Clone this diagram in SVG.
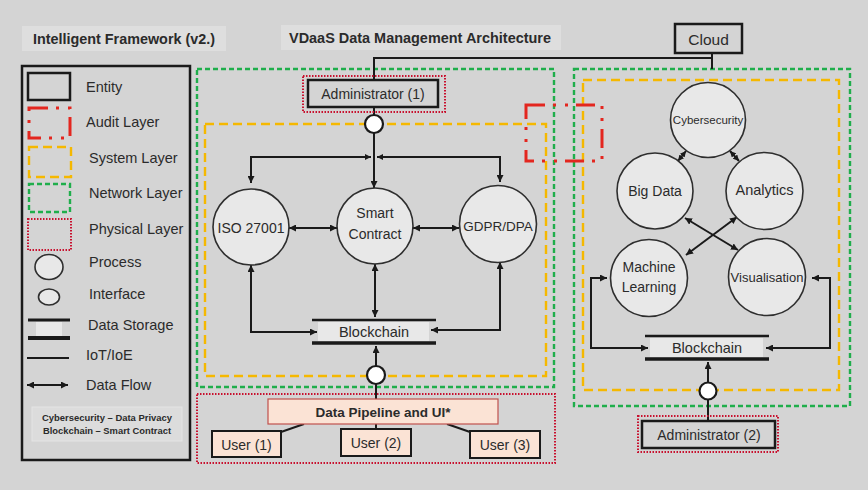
<svg xmlns="http://www.w3.org/2000/svg" width="868" height="490" viewBox="0 0 868 490">
  <style>
    text { font-family: "Liberation Sans", Arial, sans-serif; fill: #2b2b2b; }
    .c { text-anchor: middle; dominant-baseline: central; }
    .l { dominant-baseline: central; font-size: 14.5px; }
    .b { font-weight: bold; }
    .panel { fill: #dedede; }
    .ent { fill: none; stroke: #1a1a1a; stroke-width: 2.5; }
    .proc { fill: #e8e8e8; stroke: #2e2e2e; stroke-width: 1.6; }
    .ifc { fill: #ffffff; stroke: #1a1a1a; stroke-width: 2.2; }
    .net { fill: none; stroke: #1fae4b; stroke-width: 2.4; stroke-dasharray: 5 3; }
    .sys { fill: none; stroke: #f5b800; stroke-width: 2.4; stroke-dasharray: 9 5; }
    .phy { fill: none; stroke: #c8102e; stroke-width: 2; stroke-dasharray: 1.5 1.5; }
    .aud { fill: none; stroke: #e3261f; stroke-width: 3; stroke-dasharray: 19 8 3 9 3 8; }
    .wire { fill: none; stroke: #1a1a1a; stroke-width: 2; }
    .flow { fill: none; stroke: #1a1a1a; stroke-width: 2; marker-start: url(#ah); marker-end: url(#ah); }
    .one { fill: none; stroke: #1a1a1a; stroke-width: 2; marker-end: url(#ah); }
    .sm { fill: none; stroke: #1a1a1a; stroke-width: 2; marker-start: url(#ahs); marker-end: url(#ahs); }
    .store { fill: #e8e8e8; }
    .bar { stroke: #1a1a1a; }
    .peach { fill: #fbe3d5; }
  </style>
  <defs>
    <marker id="ah" viewBox="0 0 8 8" refX="8" refY="4" markerWidth="7" markerHeight="7" markerUnits="userSpaceOnUse" orient="auto-start-reverse">
      <path d="M0,0 L8,4 L0,8 z" fill="#1a1a1a"/>
    </marker>
    <marker id="ahs" viewBox="0 0 8 8" refX="8" refY="4" markerWidth="6" markerHeight="6" markerUnits="userSpaceOnUse" orient="auto-start-reverse">
      <path d="M0,0 L8,4 L0,8 z" fill="#1a1a1a"/>
    </marker>
  </defs>

  <!-- background -->
  <rect x="0" y="0" width="868" height="490" fill="#d4d4d4"/>

  <!-- headings -->
  <g id="heading-framework">
    <rect class="panel" x="22" y="26" width="204" height="25"/>
    <text class="c b" x="124" y="39" font-size="14" textLength="182" lengthAdjust="spacingAndGlyphs">Intelligent Framework (v2.)</text>
  </g>
  <g id="heading-architecture">
    <rect class="panel" x="281" y="25" width="280" height="25"/>
    <text class="c b" x="420" y="38" font-size="14" textLength="262" lengthAdjust="spacingAndGlyphs">VDaaS Data Management Architecture</text>
  </g>

  <!-- legend -->
  <g id="legend">
    <rect x="22" y="66" width="168" height="394" fill="none" stroke="#1a1a1a" stroke-width="2.5"/>
    <rect class="ent" x="28" y="73" width="42" height="27"/>
    <text class="l" x="86" y="87">Entity</text>
    <rect class="aud" x="29" y="108" width="41" height="30" stroke-width="2.5"/>
    <text class="l" x="86" y="122">Audit Layer</text>
    <rect class="sys" x="29" y="147" width="42" height="30"/>
    <text class="l" x="89" y="158">System Layer</text>
    <rect class="net" x="29" y="184" width="41" height="28"/>
    <text class="l" x="89" y="193">Network Layer</text>
    <rect class="phy" x="28" y="219" width="43" height="31"/>
    <text class="l" x="89" y="229">Physical Layer</text>
    <ellipse class="proc" cx="49" cy="267" rx="14" ry="12.5" stroke-width="1.5"/>
    <text class="l" x="89" y="262">Process</text>
    <ellipse class="proc" cx="49" cy="297" rx="10.5" ry="8" stroke-width="1.5"/>
    <text class="l" x="89" y="294">Interface</text>
    <rect class="store" x="36" y="322" width="26" height="14"/>
    <line class="bar" x1="28" y1="320" x2="70" y2="320" stroke-width="3"/>
    <line class="bar" x1="28" y1="338" x2="70" y2="338" stroke-width="4"/>
    <text class="l" x="88" y="325">Data Storage</text>
    <line class="bar" x1="27" y1="358" x2="69" y2="358" stroke-width="2"/>
    <text class="l" x="86" y="355">IoT/IoE</text>
    <line class="flow" x1="27" y1="385" x2="68" y2="385"/>
    <text class="l" x="86" y="385">Data Flow</text>
    <rect x="32" y="407" width="150" height="34" fill="#dcdcdc" stroke="#e4e4e4" stroke-width="1"/>
    <text class="c b" x="107" y="418" font-size="8.5" textLength="130" lengthAdjust="spacingAndGlyphs">Cybersecurity – Data Privacy</text>
    <text class="c b" x="107" y="431" font-size="8.5" textLength="128" lengthAdjust="spacingAndGlyphs">Blockchain – Smart Contract</text>
  </g>

  <!-- layers -->
  <g id="layers">
    <rect id="network-left" class="net" x="197" y="69" width="357" height="318"/>
    <rect id="system-left" class="sys" x="205" y="124" width="341" height="252"/>
    <rect id="physical-users" class="phy" x="197" y="394" width="358" height="69"/>
    <rect id="network-right" class="net" x="574" y="69" width="276" height="337"/>
    <rect id="system-right" class="sys" x="583" y="80" width="256" height="310"/>
    <rect id="audit" class="aud" x="526" y="105" width="76" height="56"/>
  </g>

  <!-- connectors -->
  <g id="connectors">
    <!-- cloud uplink -->
    <path class="wire" d="M374,80 V58 H712"/>
    <path class="wire" d="M712,53 V69"/>
    <!-- administrator (1) to interface and branch -->
    <path class="wire" d="M374,107 V115"/>
    <path class="one" d="M374,133 V188"/>
    <path class="wire" d="M371,157 H251 V183" marker-start="url(#ahs)" marker-end="url(#ah)"/>
    <path class="wire" d="M377,157 H500 V182" marker-start="url(#ahs)" marker-end="url(#ah)"/>
    <!-- process links -->
    <line class="flow" x1="289" y1="228" x2="337" y2="228"/>
    <line class="flow" x1="413" y1="228" x2="459" y2="228"/>
    <!-- to left blockchain -->
    <path class="flow" d="M251,265 V332 H317"/>
    <path class="flow" d="M500,262 V330 H431"/>
    <line class="flow" x1="375" y1="264" x2="375" y2="317"/>
    <line class="one" x1="376" y1="366" x2="376" y2="346"/>
    <line class="wire" x1="376" y1="384" x2="376" y2="399"/>
    <!-- users to pipeline -->
    <line class="wire" x1="281" y1="432" x2="304" y2="424"/>
    <line class="wire" x1="376" y1="424" x2="376" y2="429"/>
    <line class="wire" x1="470" y1="432" x2="447" y2="424"/>
    <!-- right cluster -->
    <line class="sm" x1="686" y1="151" x2="678" y2="161"/>
    <line class="sm" x1="730" y1="151" x2="739" y2="161"/>
    <line class="flow" x1="685" y1="218" x2="738" y2="250"/>
    <line class="flow" x1="737" y1="217" x2="686" y2="255"/>
    <path class="flow" d="M607,278 H591 V348 H648"/>
    <path class="flow" d="M812,278 H830 V348 H766"/>
    <line class="one" x1="708" y1="383" x2="708" y2="362"/>
    <line class="wire" x1="708" y1="400" x2="708" y2="421"/>
  </g>

  <!-- entities -->
  <g id="cloud">
    <rect class="ent" x="675" y="24" width="67" height="29" fill="#d4d4d4"/>
    <text class="c" x="708.5" y="39" font-size="15.5">Cloud</text>
  </g>
  <g id="administrator-1">
    <rect class="phy" x="303" y="76" width="142" height="36"/>
    <rect class="ent" x="308" y="80" width="130" height="27"/>
    <text class="c" x="373" y="94" font-size="14">Administrator (1)</text>
  </g>
  <g id="administrator-2">
    <rect class="phy" x="638" y="416" width="140" height="36"/>
    <rect class="ent" x="642" y="421" width="133" height="27"/>
    <text class="c" x="709" y="435" font-size="14">Administrator (2)</text>
  </g>

  <!-- interfaces -->
  <g id="interface-admin-1"><circle class="ifc" cx="374" cy="124" r="9"/></g>
  <g id="interface-pipeline"><circle class="ifc" cx="376" cy="375" r="9"/></g>
  <g id="interface-admin-2"><circle class="ifc" cx="708" cy="391" r="8.5"/></g>

  <!-- processes (left) -->
  <g id="iso-27001">
    <circle class="proc" cx="251" cy="227" r="38"/>
    <text class="c" x="251" y="228" font-size="14">ISO 27001</text>
  </g>
  <g id="smart-contract">
    <circle class="proc" cx="375" cy="226" r="38"/>
    <text class="c" x="375" y="213" font-size="14">Smart</text>
    <text class="c" x="375" y="234" font-size="14">Contract</text>
  </g>
  <g id="gdpr-dpa">
    <circle class="proc" cx="498" cy="224" r="38.5"/>
    <text class="c" x="498" y="226" font-size="13.5">GDPR/DPA</text>
  </g>

  <!-- data storage (left) -->
  <g id="blockchain-left">
    <rect class="store" x="318" y="322" width="111" height="19"/>
    <line class="bar" x1="312" y1="320" x2="436" y2="320" stroke-width="2.5"/>
    <line class="bar" x1="312" y1="343" x2="436" y2="343" stroke-width="3.5"/>
    <text class="c" x="374" y="332" font-size="14.5">Blockchain</text>
  </g>

  <!-- pipeline and users -->
  <g id="data-pipeline">
    <rect class="peach" x="268" y="399" width="230" height="25" stroke="#c0504d" stroke-width="1.2"/>
    <text class="c b" x="383" y="412" font-size="13.5">Data Pipeline and UI*</text>
  </g>
  <g id="user-1">
    <rect class="peach" x="212" y="431" width="69" height="26" stroke="#1a1a1a" stroke-width="2"/>
    <text class="c" x="246.5" y="444.5" font-size="14">User (1)</text>
  </g>
  <g id="user-2">
    <rect class="peach" x="341" y="429" width="70" height="27" stroke="#1a1a1a" stroke-width="2"/>
    <text class="c" x="376" y="442.5" font-size="14">User (2)</text>
  </g>
  <g id="user-3">
    <rect class="peach" x="470" y="431" width="70" height="27" stroke="#1a1a1a" stroke-width="2"/>
    <text class="c" x="505" y="444.5" font-size="14">User (3)</text>
  </g>

  <!-- processes (right) -->
  <g id="cybersecurity">
    <circle class="proc" cx="708" cy="120" r="37.5"/>
    <text class="c" x="708" y="120" font-size="11.5">Cybersecurity</text>
  </g>
  <g id="big-data">
    <circle class="proc" cx="655" cy="191" r="38"/>
    <text class="c" x="655" y="191" font-size="14">Big Data</text>
  </g>
  <g id="analytics">
    <circle class="proc" cx="764.5" cy="191" r="38.5"/>
    <text class="c" x="764.5" y="190" font-size="14.5">Analytics</text>
  </g>
  <g id="machine-learning">
    <circle class="proc" cx="649" cy="278" r="38.5"/>
    <text class="c" x="649" y="267" font-size="14">Machine</text>
    <text class="c" x="649" y="287" font-size="14">Learning</text>
  </g>
  <g id="visualisation">
    <circle class="proc" cx="767" cy="277" r="38.5"/>
    <text class="c" x="767" y="277" font-size="13">Visualisation</text>
  </g>

  <!-- data storage (right) -->
  <g id="blockchain-right">
    <rect class="store" x="650" y="338" width="113" height="19"/>
    <line class="bar" x1="645" y1="336" x2="769" y2="336" stroke-width="2.5"/>
    <line class="bar" x1="645" y1="359" x2="769" y2="359" stroke-width="3.5"/>
    <text class="c" x="707" y="348" font-size="14.5">Blockchain</text>
  </g>
</svg>
